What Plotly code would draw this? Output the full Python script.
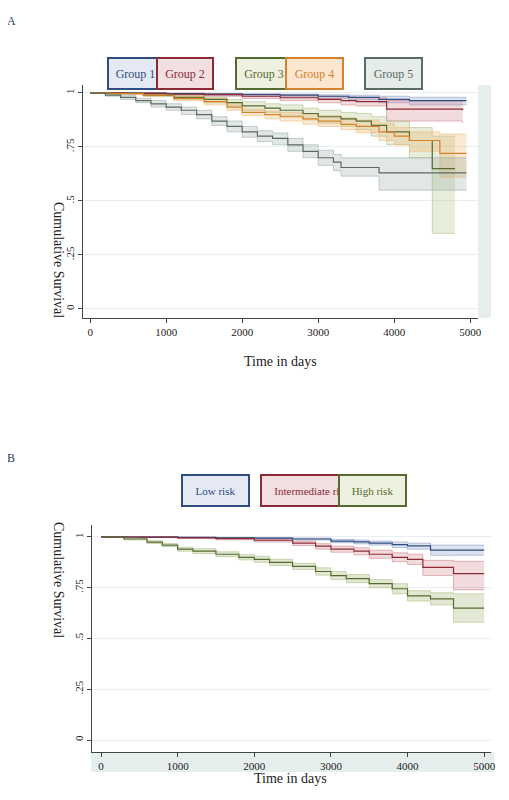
import plotly.graph_objects as go

# ---- Panel A data ----
A_names = ["Group 1", "Group 2", "Group 3", "Group 4", "Group 5"]
A_colors = ["#2f4d80", "#8c2b36", "#556b2f", "#d4822c", "#5a6b62"]
A_fills = ["rgba(120,140,190,0.25)", "rgba(200,110,120,0.25)", "rgba(160,180,110,0.25)",
           "rgba(240,180,100,0.30)", "rgba(140,160,150,0.25)"]
A_edges = ["rgba(120,140,190,0.6)", "rgba(200,110,120,0.6)", "rgba(160,180,110,0.6)",
           "rgba(240,180,100,0.6)", "rgba(140,160,150,0.6)"]
A_t = [
    [0, 500, 1000, 1500, 2000, 2500, 3000, 3400, 3800, 4200, 4950],
    [0, 500, 1000, 1500, 2000, 2500, 3000, 3300, 3500, 3900, 4900],
    [0, 300, 700, 1100, 1500, 1800, 2000, 2300, 2500, 2800, 3000, 3300, 3500, 3700, 3900, 4200, 4500, 4800],
    [0, 300, 700, 1100, 1500, 1800, 2000, 2300, 2500, 2800, 3000, 3300, 3500, 3800, 4000, 4200, 4600, 4950],
    [0, 200, 400, 600, 800, 1000, 1200, 1400, 1600, 1800, 2000, 2200, 2400, 2600, 2800, 3000, 3200, 3300, 3800, 4950],
]
A_s = [
    [1, 0.999, 0.997, 0.995, 0.993, 0.99, 0.985, 0.98, 0.97, 0.965, 0.965],
    [1, 0.998, 0.995, 0.992, 0.985, 0.978, 0.97, 0.965, 0.96, 0.925, 0.92],
    [1, 0.998, 0.99, 0.98, 0.97, 0.955, 0.94, 0.93, 0.92, 0.905, 0.89, 0.88, 0.87, 0.85, 0.82, 0.78, 0.65, 0.65],
    [1, 0.997, 0.99, 0.975, 0.96, 0.935, 0.91, 0.9, 0.89, 0.88, 0.87, 0.855, 0.845, 0.82, 0.80, 0.78, 0.72, 0.72],
    [1, 0.99, 0.98, 0.965, 0.95, 0.935, 0.92, 0.9, 0.87, 0.845, 0.82, 0.8, 0.79, 0.76, 0.73, 0.7, 0.68, 0.655, 0.63, 0.63],
]
A_lo = [
    [1, 0.997, 0.994, 0.99, 0.986, 0.982, 0.975, 0.968, 0.955, 0.945, 0.945],
    [1, 0.996, 0.99, 0.985, 0.975, 0.965, 0.955, 0.945, 0.94, 0.87, 0.86],
    [1, 0.995, 0.985, 0.97, 0.955, 0.94, 0.92, 0.91, 0.895, 0.875, 0.86, 0.845, 0.83, 0.8, 0.76, 0.70, 0.35, 0.35],
    [1, 0.994, 0.985, 0.965, 0.945, 0.92, 0.895, 0.88, 0.87, 0.855, 0.845, 0.83, 0.815, 0.78, 0.76, 0.73, 0.61, 0.61],
    [1, 0.985, 0.97, 0.955, 0.935, 0.92, 0.9, 0.88, 0.85, 0.82, 0.795, 0.775, 0.76, 0.73, 0.7, 0.665, 0.64, 0.615, 0.55, 0.55],
]
A_hi = [
    [1, 1, 0.999, 0.998, 0.997, 0.995, 0.992, 0.99, 0.985, 0.98, 0.98],
    [1, 1, 0.999, 0.997, 0.993, 0.99, 0.985, 0.982, 0.978, 0.965, 0.96],
    [1, 1, 0.995, 0.99, 0.98, 0.97, 0.96, 0.95, 0.945, 0.93, 0.92, 0.91, 0.905, 0.89, 0.87, 0.84, 0.80, 0.80],
    [1, 1, 0.995, 0.985, 0.975, 0.95, 0.925, 0.915, 0.91, 0.9, 0.895, 0.885, 0.875, 0.86, 0.84, 0.82, 0.81, 0.81],
    [1, 0.995, 0.99, 0.975, 0.965, 0.95, 0.935, 0.92, 0.89, 0.87, 0.845, 0.825, 0.815, 0.79, 0.76, 0.735, 0.715, 0.7, 0.7, 0.7],
]

# ---- Panel B data ----
B_names = ["Low risk", "Intermediate risk", "High risk"]
B_colors = ["#2f4d80", "#8c2b36", "#556b2f"]
B_fills = ["rgba(120,140,190,0.25)", "rgba(200,110,120,0.25)", "rgba(160,180,110,0.30)"]
B_edges = ["rgba(120,140,190,0.6)", "rgba(200,110,120,0.6)", "rgba(160,180,110,0.6)"]
B_t = [
    [0, 500, 1000, 1500, 2000, 2500, 3000, 3300, 3500, 3800, 4000, 4300, 5000],
    [0, 500, 1000, 1500, 2000, 2500, 2800, 3000, 3300, 3500, 3800, 4000, 4200, 4600, 5000],
    [0, 300, 600, 800, 1000, 1200, 1500, 1800, 2000, 2200, 2500, 2800, 3000, 3200, 3500, 3800, 4000, 4300, 4600, 5000],
]
B_s = [
    [1, 0.999, 0.998, 0.996, 0.994, 0.99, 0.98, 0.976, 0.97, 0.962, 0.956, 0.935, 0.935],
    [1, 0.999, 0.996, 0.992, 0.984, 0.97, 0.955, 0.94, 0.93, 0.915, 0.9, 0.89, 0.85, 0.82, 0.82],
    [1, 0.99, 0.975, 0.96, 0.94, 0.93, 0.915, 0.9, 0.89, 0.875, 0.855, 0.83, 0.81, 0.795, 0.77, 0.745, 0.71, 0.695, 0.65, 0.65],
]
B_lo = [
    [1, 0.998, 0.996, 0.993, 0.99, 0.985, 0.972, 0.966, 0.96, 0.948, 0.94, 0.91, 0.91],
    [1, 0.997, 0.993, 0.986, 0.975, 0.958, 0.94, 0.925, 0.912, 0.895, 0.878, 0.865, 0.81, 0.74, 0.74],
    [1, 0.985, 0.968, 0.952, 0.93, 0.918, 0.903, 0.887, 0.875, 0.86, 0.84, 0.812, 0.79, 0.775, 0.75, 0.72, 0.685, 0.665, 0.58, 0.58],
]
B_hi = [
    [1, 1, 0.999, 0.998, 0.997, 0.995, 0.988, 0.985, 0.98, 0.975, 0.97, 0.96, 0.96],
    [1, 1, 0.998, 0.996, 0.99, 0.98, 0.967, 0.955, 0.947, 0.935, 0.922, 0.915, 0.885, 0.88, 0.88],
    [1, 0.995, 0.982, 0.968, 0.95, 0.942, 0.927, 0.913, 0.905, 0.89, 0.87, 0.848, 0.83, 0.815, 0.79, 0.77, 0.735, 0.725, 0.72, 0.72],
]

fig = go.Figure()
SERIF = "Liberation Serif"

def add_panel(ts, ss, los, his, colors, fills, edges, xa, ya):
    for t, lo, hi, f, e in zip(ts, los, his, fills, edges):
        fig.add_trace(go.Scatter(x=t, y=lo, mode="lines", line=dict(width=0.8, color=e), line_shape="hv",
                                 xaxis=xa, yaxis=ya, showlegend=False, hoverinfo="skip"))
        fig.add_trace(go.Scatter(x=t, y=hi, mode="lines", line=dict(width=0.8, color=e), line_shape="hv",
                                 fill="tonexty", fillcolor=f, xaxis=xa, yaxis=ya, showlegend=False,
                                 hoverinfo="skip"))
    for t, s, c in zip(ts, ss, colors):
        fig.add_trace(go.Scatter(x=t, y=s, mode="lines", line=dict(width=1.2, color=c), line_shape="hv",
                                 xaxis=xa, yaxis=ya, showlegend=False))

add_panel(A_t, A_s, A_lo, A_hi, A_colors, A_fills, A_edges, "x", "y")
add_panel(B_t, B_s, B_lo, B_hi, B_colors, B_fills, B_edges, "x2", "y2")

OFF = 8
W, H = 509 - 2 * OFF, 800 - 2 * OFF
def dx(p): return (p - OFF) / W
def dy(p): return 1 - (p - OFF) / H

ax_common = dict(showline=True, linecolor="#444", linewidth=1, ticks="outside", ticklen=4, tickcolor="#444",
                 tickfont=dict(family=SERIF, size=11, color="#222"), zeroline=False)
yt = dict(tickvals=[0, .25, .5, .75, 1], ticktext=["0", ".25", ".5", ".75", "1"], tickangle=-90,
          showgrid=True, gridcolor="#eaeeee")
fig.update_layout(
    width=W, height=H, margin=dict(l=0, r=0, t=0, b=0),
    paper_bgcolor="white", plot_bgcolor="white",
    xaxis=dict(domain=[dx(84), dx(483)], range=[-91, 5104], tickvals=[0, 1000, 2000, 3000, 4000, 5000],
               showgrid=False, anchor="y", **ax_common),
    yaxis=dict(domain=[dy(318), dy(85)], range=[-0.042, 1.037], anchor="x", **yt, **ax_common),
    xaxis2=dict(domain=[dx(93), dx(496)], range=[-116, 5090], tickvals=[0, 1000, 2000, 3000, 4000, 5000],
                showgrid=False, anchor="y2", **ax_common),
    yaxis2=dict(domain=[dy(752), dy(525)], range=[-0.059, 1.059], anchor="x2", **yt, **ax_common),
)

fig.add_shape(type="rect", xref="paper", yref="paper", x0=dx(483), x1=dx(496), y0=dy(318), y1=dy(85),
              fillcolor="#e6eeee", line_width=0, layer="below")
fig.add_shape(type="rect", xref="paper", yref="paper", x0=dx(92), x1=dx(499), y0=dy(772), y1=dy(752),
              fillcolor="#e6eeee", line_width=0, layer="below")

ann = []
ann.append(dict(text="A", x=dx(5), y=dy(12), xref="paper", yref="paper", showarrow=False,
                font=dict(family=SERIF, size=12), xanchor="left"))
ann.append(dict(text="B", x=dx(5), y=dy(458), xref="paper", yref="paper", showarrow=False,
                font=dict(family=SERIF, size=12), xanchor="left"))
for yy in [200, 640]:
    ann.append(dict(text="Cumulative Survival", x=dx(50), y=dy(yy), xref="paper", yref="paper", showarrow=False,
                    textangle=90, font=dict(family=SERIF, size=14, color="#222")))
ann.append(dict(text="Time in days", x=dx(283), y=dy(362), xref="paper", yref="paper", showarrow=False,
                font=dict(family=SERIF, size=14, color="#222")))
ann.append(dict(text="Time in days", x=dx(293), y=dy(788), xref="paper", yref="paper", showarrow=False,
                font=dict(family=SERIF, size=14, color="#222")))

A_boxes = [(80, 137), (158, 216), (238, 296), (318, 377), (398, 457)]
A_boxfill = ["#e4e9f3", "#f1dfe1", "#eef1df", "#fbe6d0", "#e6ece9"]
for (x0, x1), name, c, f in zip(A_boxes, A_names, A_colors, A_boxfill):
    ann.append(dict(text=name, x=dx((x0 + x1) / 2), y=dy(57.5), xref="paper", yref="paper", showarrow=False,
                    width=x1 - x0 - 6, height=27, bgcolor=f, bordercolor=c, borderwidth=2, borderpad=1,
                    font=dict(family=SERIF, size=12, color=c)))
B_boxes = [(183, 252), (263, 367), (377, 446)]
B_boxfill = ["#e4e9f3", "#f1dfe1", "#eef1df"]
for (x0, x1), name, c, f in zip(B_boxes, B_names, B_colors, B_boxfill):
    ann.append(dict(text=name, x=dx((x0 + x1) / 2), y=dy(490.5), xref="paper", yref="paper", showarrow=False,
                    width=x1 - x0 - 6, height=27, bgcolor=f, bordercolor=c, borderwidth=2, borderpad=1,
                    font=dict(family=SERIF, size=11, color=c)))
fig.update_layout(annotations=ann)

fig.write_html("out.html")
